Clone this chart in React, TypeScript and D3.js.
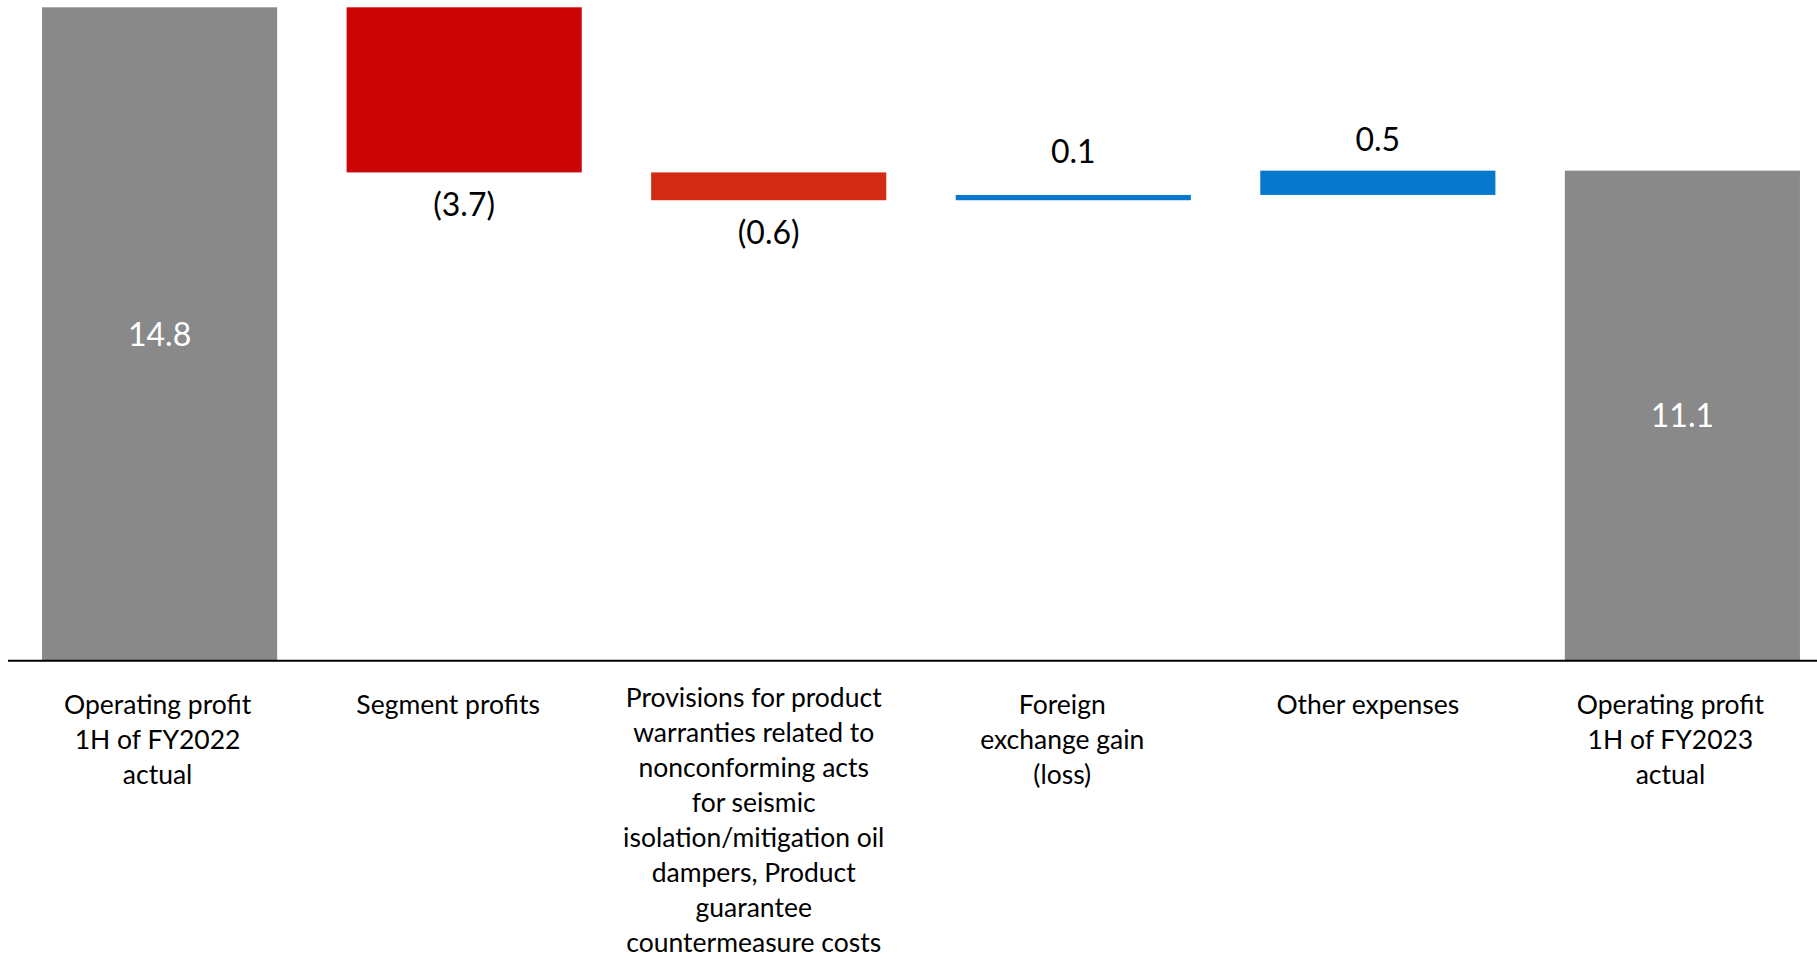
import React from "react";
import * as d3 from "d3";

// ---- data ----
const categories: string[] = [
  "Operating profit\n1H of FY2022\nactual",
  "Segment profits",
  "Provisions for product\nwarranties related to\nnonconforming acts\nfor seismic\nisolation/mitigation oil\ndampers, Product\nguarantee\ncountermeasure costs",
  "Foreign\nexchange gain\n(loss)",
  "Other expenses",
  "Operating profit\n1H of FY2023\nactual",
];
const isTotal: boolean[] = [true, false, false, false, false, true];
const values: number[] = [14.8, -3.74, -0.63, 0.12, 0.55, 11.1];
const valueLabels: string[] = ["14.8", "(3.7)", "(0.6)", "0.1", "0.5", "11.1"];

// ---- styles / layout ----
const barFill = ["#898989", "#CB0505", "#D22B14", "#0779CC", "#0779CC", "#898989"];
const catNudgeX = [-2, -16, -15, -11, -10, -12];
const valNudgeY = [0, 0, 0, -12, 0, 0];
const W = 1817;
const H = 959;
const FONT = "Lato, 'Open Sans', sans-serif";
const VAL_SIZE = 32;
const CAT_SIZE = 26.5;
const LINE_H = 35;

export default function App() {
  const x = d3
    .scaleBand<string>()
    .domain(categories.map((_, i) => String(i)))
    .range([16, 1826])
    .paddingInner(0.228)
    .paddingOuter(0.0855);
  const y = d3.scaleLinear().domain([0, 14.8]).range([660.7, 7.3]);

  let run = 0;
  const bars = values.map((v, i) => {
    let a: number, b: number;
    if (isTotal[i]) {
      a = 0;
      b = v;
      run = v;
    } else {
      a = run;
      b = run + v;
      run = b;
    }
    return { i, v, lo: Math.min(a, b), hi: Math.max(a, b) };
  });

  const bw = x.bandwidth();

  return (
    <div style={{ position: "absolute", left: 0, top: 0 }}>
      <svg width={W} height={H} style={{ display: "block", background: "#fff" }}>
        {bars.map((d) => {
          const x0 = x(String(d.i)) as number;
          const top = y(d.hi);
          const bot = y(d.lo);
          return (
            <rect
              key={"b" + d.i}
              x={x0}
              y={top}
              width={bw}
              height={Math.max(bot - top, 1)}
              fill={barFill[d.i]}
            />
          );
        })}
        <line x1={8} x2={W} y1={y(0)} y2={y(0)} stroke="#000" strokeWidth={2} />
        {bars.map((d) => {
          const cx = (x(String(d.i)) as number) + bw / 2;
          const top = y(d.hi);
          const bot = y(d.lo);
          let ty: number;
          let fill = "#000";
          if (isTotal[d.i]) {
            ty = (top + bot) / 2 + VAL_SIZE * 0.36;
            fill = "#fff";
          } else if (d.v < 0) {
            ty = bot + 44;
          } else {
            ty = top - 20;
          }
          ty += valNudgeY[d.i];
          return (
            <text
              key={"v" + d.i}
              x={cx}
              y={ty}
              textAnchor="middle"
              fontFamily={FONT}
              fontSize={VAL_SIZE}
              fill={fill}
            >
              {valueLabels[d.i]}
            </text>
          );
        })}
        {categories.map((c, i) => {
          const cx = (x(String(i)) as number) + bw / 2 + catNudgeX[i];
          const lines = c.split("\n");
          const y0 = lines.length > 3 ? 707 : 713.5;
          return (
            <text
              key={"c" + i}
              x={cx}
              y={y0}
              textAnchor="middle"
              fontFamily={FONT}
              fontSize={CAT_SIZE}
              fill="#000"
            >
              {lines.map((l, k) => (
                <tspan key={k} x={cx} y={y0 + k * LINE_H}>
                  {l}
                </tspan>
              ))}
            </text>
          );
        })}
      </svg>
    </div>
  );
}
